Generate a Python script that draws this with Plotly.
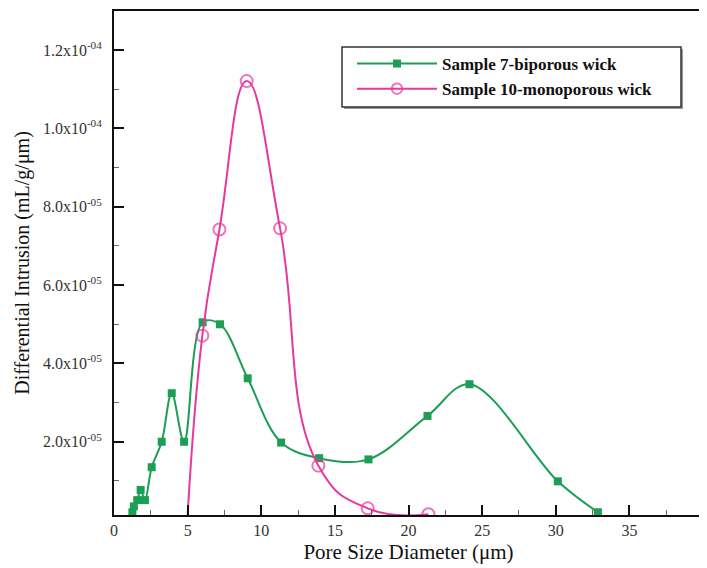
import plotly.graph_objects as go

# Sample 7 - biporous wick
s7_x = [1.25, 1.35, 1.58, 1.81, 2.10, 2.56, 3.24, 3.92, 4.76, 6.02, 7.20, 9.08,
        11.35, 13.93, 17.28, 21.29, 24.14, 30.14, 32.86]
s7_y = [2.0e-6, 3.5e-6, 5.1e-6, 7.7e-6, 5.1e-6, 1.35e-5, 2.0e-5, 3.24e-5, 2.0e-5,
        5.05e-5, 5.0e-5, 3.62e-5, 1.98e-5, 1.58e-5, 1.55e-5, 2.66e-5, 3.47e-5,
        9.9e-6, 2.0e-6]

# Sample 10 - monoporous wick (first point is the curve start, no marker)
s10_x = [4.98, 6.00, 7.16, 9.01, 11.28, 13.88, 17.23, 21.35]
s10_y = [0.0, 4.71e-5, 7.42e-5, 1.121e-4, 7.45e-5, 1.39e-5, 3.0e-6, 1.5e-6]
s10_marker_size = [0, 12, 12, 12, 12, 12, 12, 12]

y_tickvals = [2e-5, 4e-5, 6e-5, 8e-5, 1.0e-4, 1.2e-4]
y_ticktext = ["2.0x10<sup>-05</sup>", "4.0x10<sup>-05</sup>", "6.0x10<sup>-05</sup>",
              "8.0x10<sup>-05</sup>", "1.0x10<sup>-04</sup>", "1.2x10<sup>-04</sup>"]
x_tickvals = [0, 5, 10, 15, 20, 25, 30, 35, 40]

green = "#1c9e55"
magenta = "#e8389e"
serif = "Liberation Serif, Times New Roman, serif"

# page has an 8px body margin; figure is sized to fit the 707x568 window
W, H = 699, 560
OFF = 8
# plot area in window pixels
L, R, T, B = 114, 703, 11, 515

def px_x(p):
    return (p - L) / (R - L)

def px_y(p):
    return (B - p) / (B - T)

fig = go.Figure()
fig.add_trace(go.Scatter(
    x=s7_x, y=s7_y, name="<b>Sample 7-biporous wick</b>",
    mode="lines+markers",
    line=dict(color=green, width=2, shape="spline", smoothing=1.0),
    marker=dict(symbol="square", size=8, color=green),
))
fig.add_trace(go.Scatter(
    x=s10_x, y=s10_y, name="<b>Sample 10-monoporous wick</b>",
    mode="lines+markers",
    line=dict(color=magenta, width=2, shape="spline", smoothing=1.3),
    marker=dict(symbol="circle-open", size=s10_marker_size, color=magenta,
                line=dict(width=2, color=magenta)),
))

# legend frame with slight shadow
fig.add_shape(type="rect", xref="paper", yref="paper",
              x0=px_x(344), x1=px_x(683), y0=px_y(109), y1=px_y(49),
              line=dict(width=0), fillcolor="#9a9a9a", layer="above")
fig.add_shape(type="rect", xref="paper", yref="paper",
              x0=px_x(342), x1=px_x(681), y0=px_y(107), y1=px_y(47),
              line=dict(width=1.5, color="#333"), fillcolor="white", layer="above")

fig.update_layout(
    width=W, height=H,
    margin=dict(l=L - OFF, r=W + OFF - R, t=T - OFF, b=H + OFF - B),
    paper_bgcolor="white", plot_bgcolor="white",
    font=dict(family=serif, size=16, color="#222"),
    showlegend=True,
    legend=dict(
        x=px_x(352), y=px_y(46), xanchor="left", yanchor="top",
        borderwidth=0, bgcolor="rgba(0,0,0,0)",
        font=dict(family=serif, size=17, color="#111"),
        itemwidth=80, tracegroupgap=0,
    ),
    xaxis=dict(
        range=[0, 40], tickvals=x_tickvals, ticks="inside", ticklen=10,
        tickwidth=2, tickcolor="#111",
        minor=dict(ticks="inside", ticklen=5, dtick=2.5, tickcolor="#666", tickwidth=1),
        showline=True, linecolor="#111", linewidth=2, mirror=True,
        showgrid=False, zeroline=False, automargin=False,
        ticklabelstandoff=0,
        tickfont=dict(family=serif, size=16, color="#333"),
        title=dict(text="Pore Size Diameter (\u03bcm)", standoff=6,
                   font=dict(family=serif, size=21, color="#111")),
    ),
    yaxis=dict(
        range=[1.3e-6, 1.3e-4], tickvals=y_tickvals, ticktext=y_ticktext,
        ticks="inside", ticklen=10, tickwidth=2, tickcolor="#111",
        minor=dict(ticks="inside", ticklen=5, dtick=1e-5, tick0=0, tickcolor="#666", tickwidth=1),
        showline=True, linecolor="#111", linewidth=2, mirror=True,
        showgrid=False, zeroline=False, automargin=False, ticklabelstandoff=7,
        tickfont=dict(family=serif, size=16, color="#333"),
        title=dict(text="Differential Intrusion (mL/g/\u03bcm)", standoff=8,
                   font=dict(family=serif, size=20, color="#111")),
    ),
)

fig.write_html("out.html")
